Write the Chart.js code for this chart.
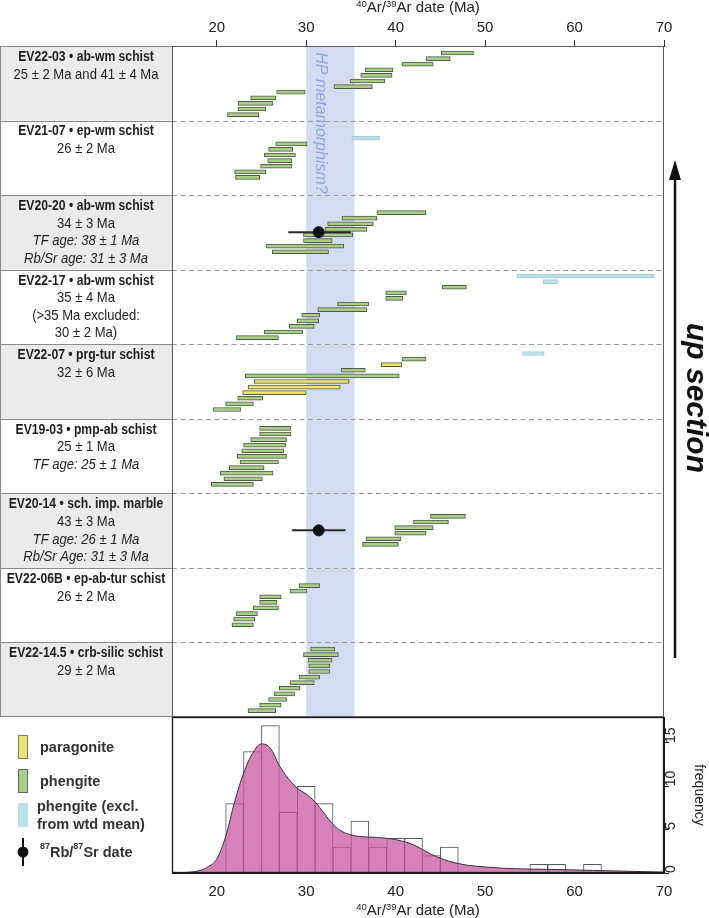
<!DOCTYPE html>
<html>
<head>
<meta charset="utf-8">
<script src="https://cdn.jsdelivr.net/npm/chart.js@4.4.1/dist/chart.umd.min.js"></script>
<style>
  html, body { margin: 0; padding: 0; background: #fff; }
  #wrap { position: relative; width: 709px; height: 918px; overflow: hidden; }
  #topChart { position: absolute; left: 0; top: 0; }
  #histChart { position: absolute; left: 0; top: 717px; }
</style>
</head>
<body>
<div id="wrap">
  <canvas id="topChart" width="709" height="718"></canvas>
  <canvas id="histChart" width="709" height="201"></canvas>
</div>
<script>
// samples, top to bottom
var sampleTitles = ['EV22-03 • ab-wm schist', 'EV21-07 • ep-wm schist', 'EV20-20 • ab-wm schist',
    'EV22-17 • ab-wm schist', 'EV22-07 • prg-tur schist', 'EV19-03 • pmp-ab schist',
    'EV20-14 • sch. imp. marble', 'EV22-06B • ep-ab-tur schist', 'EV22-14.5 • crb-silic schist'];
var sampleAges = [['25 ± 2 Ma and 41 ± 4 Ma'], ['26 ± 2 Ma'], ['34 ± 3 Ma'],
    ['35 ± 4 Ma', '(>35 Ma excluded:', '30 ± 2 Ma)'], ['32 ± 6 Ma'], ['25 ± 1 Ma'],
    ['43 ± 3 Ma'], ['26 ± 2 Ma'], ['29 ± 2 Ma']];
var sampleNotes = [[], [], ['TF age: 38 ± 1 Ma', 'Rb/Sr age: 31 ± 3 Ma'], [], [],
    ['TF age: 25 ± 1 Ma'], ['TF age: 26 ± 1 Ma', 'Rb/Sr Age: 31 ± 3 Ma'], [], []];

// step ages [min, max, mineral] listed top to bottom; ph = phengite, pa = paragonite, ex = excluded
var ev2203 = [[45.1, 48.7, 'ph'], [43.4, 46.1, 'ph'], [40.7, 44.2, 'ph'], [36.6, 39.7, 'ph'], [36.1, 39.6, 'ph'],
    [34.9, 38.8, 'ph'], [33.1, 37.4, 'ph'], [26.7, 29.9, 'ph'], [23.8, 26.6, 'ph'], [22.4, 26.3, 'ph'],
    [22.4, 25.5, 'ph'], [21.2, 24.7, 'ph']];
var ev2107 = [[35.1, 38.2, 'ex'], [26.6, 30.1, 'ph'], [25.8, 28.5, 'ph'], [25.3, 28.8, 'ph'], [25.7, 28.4, 'ph'],
    [24.9, 28.4, 'ph'], [22.0, 25.5, 'ph'], [22.1, 24.8, 'ph']];
var ev2020 = [[37.9, 43.4, 'ph'], [34.0, 37.9, 'ph'], [32.4, 37.5, 'ph'], [32.1, 36.8, 'ph'], [29.7, 35.2, 'ph'],
    [29.7, 32.9, 'ph'], [25.5, 34.2, 'ph'], [26.2, 32.5, 'ph']];
var ev2217 = [[53.6, 68.9, 'ex'], [56.5, 58.1, 'ex'], [45.2, 47.9, 'ph'], [38.9, 41.2, 'ph'], [38.9, 40.8, 'ph'],
    [33.5, 37.0, 'ph'], [31.3, 36.8, 'ph'], [29.5, 31.5, 'ph'], [29.0, 31.4, 'ph'], [28.1, 30.9, 'ph'],
    [25.3, 29.6, 'ph'], [22.2, 26.9, 'ph']];
var ev2207 = [[54.2, 56.6, 'ex'], [40.7, 43.4, 'ph'], [38.4, 40.7, 'pa'], [33.9, 36.6, 'ph'], [23.2, 40.4, 'ph'],
    [24.2, 34.8, 'pa'], [23.5, 33.8, 'pa'], [22.9, 30.0, 'pa'], [22.35, 25.15, 'ph'], [21.0, 24.1, 'ph'],
    [19.6, 22.7, 'ph']];
var ev1903 = [[24.8, 28.3, 'ph'], [24.8, 28.3, 'ph'], [23.8, 27.8, 'ph'], [23.0, 27.7, 'ph'], [22.8, 27.5, 'ph'],
    [22.3, 27.8, 'ph'], [22.6, 26.9, 'ph'], [21.4, 25.3, 'ph'], [20.4, 26.3, 'ph'], [20.8, 25.1, 'ph'],
    [19.4, 24.1, 'ph']];
var ev2014 = [[43.9, 47.8, 'ph'], [42.0, 45.9, 'ph'], [39.9, 44.2, 'ph'], [39.9, 43.4, 'ph'], [36.7, 40.6, 'ph'],
    [36.3, 40.3, 'ph']];
var ev2206b = [[29.2, 31.5, 'ph'], [28.2, 30.1, 'ph'], [24.8, 27.2, 'ph'], [24.8, 26.75, 'ph'], [24.1, 26.9, 'ph'],
    [22.2, 24.55, 'ph'], [21.9, 24.25, 'ph'], [21.7, 24.1, 'ph']];
var ev22145 = [[30.5, 33.2, 'ph'], [29.7, 33.6, 'ph'], [30.2, 32.9, 'ph'], [30.3, 32.65, 'ph'], [30.3, 32.65, 'ph'],
    [29.2, 31.5, 'ph'], [28.2, 30.9, 'ph'], [27.0, 29.3, 'ph'], [26.4, 28.7, 'ph'], [25.8, 27.8, 'ph'],
    [24.8, 27.2, 'ph'], [23.5, 26.6, 'ph']];
var steps = [ev2203, ev2107, ev2020, ev2217, ev2207, ev1903, ev2014, ev2206b, ev22145];

// Rb/Sr dates
var rbsrSample = [2, 6];
var rbsrAge = [31.4, 31.4];
var rbsrLo = [28.0, 28.4];
var rbsrHi = [35.0, 34.4];

var hpBand = [30, 35.4];

// histogram (2 Ma bins) and density curve
var binStart = [21, 23, 25, 27, 29, 31, 33, 35, 37, 39, 41, 43, 45, 47, 49, 51, 53, 55, 57, 59, 61];
var binCount = [8, 14, 17, 7, 10, 8, 3, 6, 3, 4, 4, 2, 3, 0, 0, 0, 0, 1, 1, 0, 1];
var kdeAge = [15, 16, 17, 18, 19, 20, 21, 22, 23, 24, 25, 26, 27, 28, 29, 30, 31, 32, 33, 34, 35, 36, 37, 38,
    39, 40, 41, 42, 43, 44, 45, 46, 47, 48, 50, 52, 55, 58, 62, 66, 70];
var kdeFreq = [0.02, 0.05, 0.1, 0.25, 0.7, 1.6, 4.2, 8.2, 11.5, 13.8, 14.9, 14.4, 12.4, 10.9, 9.8, 9.1, 8.2, 6.9,
    5.6, 4.8, 4.4, 4.2, 4.15, 4.1, 4.0, 3.85, 3.6, 3.25, 2.7, 2.15, 1.7, 1.35, 1.1, 0.9, 0.7, 0.55, 0.45, 0.4,
    0.3, 0.2, 0.1];

// layout of the step rows (row units, 9 sections)
var SEC = 671 / 9 / 5.6;
var rowGap = [1.07, 3.16, 3.2, 1.18, 1.66, 1.6, 4.2, 3.16, 1.13];
var rbsrRow = [3.5, 2.5];
var FONT = "'Liberation Sans', Arial, sans-serif";

function rowY(s, i) {
    return (s + 1) * SEC - rowGap[s] - i;
}

var phData = [], paData = [], exData = [];
steps.forEach(function (list, s) {
    var n = list.length;
    list.forEach(function (b, k) {
        var pt = { x: [b[0], b[1]], y: rowY(s, n - 1 - k) };
        if (b[2] === 'pa') paData.push(pt);
        else if (b[2] === 'ex') exData.push(pt);
        else phData.push(pt);
    });
});

function stepSet(label, data, fill, border) {
    return {
        type: 'bar', label: label, data: data, indexAxis: 'y', grouped: false,
        backgroundColor: fill, borderColor: border, borderWidth: 1, borderSkipped: false,
        barThickness: 4, order: 3
    };
}

var topSets = [
    stepSet('phengite', phData, '#a7cf86', '#4f5a48'),
    stepSet('paragonite', paData, '#ece56c', '#5a5840'),
    stepSet('excluded', exData, '#b9e1ea', '#a3ccd6')
];
var dots = [];
rbsrSample.forEach(function (s, k) {
    var y = rowY(s, rbsrRow[k]);
    topSets.push({
        type: 'line', data: [{ x: rbsrLo[k], y: y }, { x: rbsrHi[k], y: y }],
        borderColor: '#2a2a2a', borderWidth: 2, pointRadius: 0, order: 2
    });
    dots.push({ x: rbsrAge[k], y: y });
});
topSets.push({
    type: 'line', data: dots, showLine: false, pointRadius: 5.5,
    pointBackgroundColor: '#111', pointBorderColor: '#111', order: 1
});

// narrow text like Arial Narrow
function narrowText(ctx, txt, x, y, font, sx) {
    ctx.save();
    ctx.font = font;
    ctx.translate(x, y);
    ctx.scale(sx, 1);
    ctx.textAlign = 'center';
    ctx.textBaseline = 'middle';
    ctx.fillText(txt, 0, 0);
    ctx.restore();
}

// 40Ar/39Ar date (Ma) with raised isotope numbers
function arTitle(ctx, cx, cy) {
    var parts = [['40', 1], ['Ar/', 0], ['39', 1], ['Ar date (Ma)', 0]];
    var big = '15px ' + FONT, small = '9.5px ' + FONT, w = 0;
    parts.forEach(function (p) { ctx.font = p[1] ? small : big; w += ctx.measureText(p[0]).width; });
    var x = cx - w / 2;
    ctx.save();
    ctx.fillStyle = '#222';
    ctx.textAlign = 'left';
    ctx.textBaseline = 'middle';
    parts.forEach(function (p) {
        ctx.font = p[1] ? small : big;
        ctx.fillText(p[0], x, p[1] ? cy - 4 : cy);
        x += ctx.measureText(p[0]).width;
    });
    ctx.restore();
}

var topPanel = {
    id: 'topPanel',
    beforeDatasetsDraw: function (chart) {
        var ctx = chart.ctx, a = chart.chartArea, xs = chart.scales.x, ys = chart.scales.y;
        ctx.save();
        var x0 = xs.getPixelForValue(hpBand[0]), x1 = xs.getPixelForValue(hpBand[1]);
        ctx.fillStyle = 'rgba(120,145,210,0.32)';
        ctx.fillRect(x0, a.top, x1 - x0, a.bottom - a.top);

        ctx.strokeStyle = '#9a9a9a';
        ctx.lineWidth = 1;
        ctx.setLineDash([5, 3.5]);
        for (var s = 1; s < 9; s++) {
            var y = Math.round(ys.getPixelForValue(s * SEC)) + 0.5;
            ctx.beginPath();
            ctx.moveTo(a.left, y);
            ctx.lineTo(a.right, y);
            ctx.stroke();
        }
        ctx.setLineDash([]);

        // HP label
        ctx.translate(xs.getPixelForValue(31.55), a.top + 77);
        ctx.rotate(Math.PI / 2);
        ctx.fillStyle = '#8ea7e3';
        ctx.font = 'italic 16px ' + FONT;
        ctx.textAlign = 'center';
        ctx.textBaseline = 'middle';
        ctx.fillText('HP metamorphism?', 0, 0);
        ctx.restore();
    },
    afterDraw: function (chart) {
        var ctx = chart.ctx, a = chart.chartArea, ys = chart.scales.y;
        ctx.save();
        arTitle(ctx, (a.left + a.right) / 2, 8);
        // left label column
        for (var s = 0; s < 9; s++) {
            var y0 = ys.getPixelForValue(s * SEC), y1 = ys.getPixelForValue((s + 1) * SEC);
            if (s % 2 === 0) {
                ctx.fillStyle = '#ebebeb';
                ctx.fillRect(0, y0, a.left, y1 - y0);
            }
            ctx.fillStyle = '#1e1e1e';
            var cx = a.left / 2, ty = y0 + 11;
            narrowText(ctx, sampleTitles[s], cx, ty, 'bold 14px ' + FONT, 0.87);
            sampleAges[s].forEach(function (t) {
                ty += 17.5;
                narrowText(ctx, t, cx, ty, '15px ' + FONT, 0.87);
            });
            sampleNotes[s].forEach(function (t) {
                ty += 17.5;
                narrowText(ctx, t, cx, ty, 'italic 15px ' + FONT, 0.87);
            });
        }
        ctx.strokeStyle = '#8a8a8a';
        ctx.lineWidth = 1;
        for (var k = 0; k <= 9; k++) {
            var yl = Math.round(ys.getPixelForValue(k * SEC)) + (k === 9 ? -0.5 : 0.5);
            ctx.beginPath();
            ctx.moveTo(0, yl);
            ctx.lineTo(a.left, yl);
            ctx.stroke();
        }
        ctx.beginPath();
        ctx.moveTo(0.5, a.top);
        ctx.lineTo(0.5, a.bottom);
        ctx.stroke();

        // frame
        ctx.strokeStyle = '#5a5a5a';
        ctx.strokeRect(a.left + 0.5, a.top + 0.5, a.right - a.left - 1, a.bottom - a.top - 1);

        // up section arrow
        ctx.strokeStyle = '#111';
        ctx.fillStyle = '#111';
        ctx.lineWidth = 2.5;
        ctx.beginPath();
        ctx.moveTo(675, 658);
        ctx.lineTo(675, 175);
        ctx.stroke();
        ctx.beginPath();
        ctx.moveTo(675, 160);
        ctx.lineTo(681, 180);
        ctx.lineTo(669, 180);
        ctx.closePath();
        ctx.fill();
        ctx.translate(695, 398);
        ctx.rotate(Math.PI / 2);
        ctx.font = 'italic bold 30px ' + FONT;
        ctx.textAlign = 'center';
        ctx.textBaseline = 'middle';
        ctx.fillText('up section', 0, 0);
        ctx.restore();
    }
};

new Chart(document.getElementById('topChart'), {
    type: 'bar',
    data: { datasets: topSets },
    options: {
        responsive: false,
        animation: false,
        layout: { autoPadding: false, padding: { left: 172, right: 45, top: 0, bottom: 1 } },
        plugins: { legend: { display: false }, tooltip: { enabled: false } },
        scales: {
            x: {
                type: 'linear', position: 'top', min: 15, max: 70, offset: false,
                afterBuildTicks: function (s) { s.ticks = s.ticks.filter(function (t) { return t.value % 10 === 0; }); },
                afterFit: function (s) { s.height = 46; },
                grid: { offset: false, drawOnChartArea: false, tickLength: 6, color: '#333' },
                border: { display: true, color: '#333' },
                ticks: { stepSize: 10, padding: 3, color: '#222', font: { family: FONT, size: 15 } }
            },
            y: { type: 'linear', display: false, offset: false, min: 0, max: 9 * SEC, reverse: true }
        }
    },
    plugins: [topPanel]
});

// histogram panel
var histData = binStart.map(function (b, i) { return { x: b + 1, y: binCount[i] }; });
var kdeData = kdeAge.map(function (a, i) { return { x: a, y: kdeFreq[i] }; });

var histPanel = {
    id: 'histPanel',
    afterDraw: function (chart) {
        var ctx = chart.ctx, a = chart.chartArea;
        ctx.save();
        ctx.strokeStyle = '#1a1a1a';
        ctx.lineWidth = 1.3;
        ctx.strokeRect(a.left + 0.5, a.top + 0.5, a.right - a.left - 1, a.bottom - a.top - 1);
        arTitle(ctx, (a.left + a.right) / 2, 194);

        // legend
        ctx.lineWidth = 1;
        var sw = [['#ece56c', '#777', 18], ['#a7cf86', '#666', 52], ['#b9e1ea', '#c5e0e6', 86]];
        sw.forEach(function (w) {
            ctx.fillStyle = w[0];
            ctx.strokeStyle = w[1];
            ctx.fillRect(18.5, w[2] + 0.5, 9, 23);
            ctx.strokeRect(18.5, w[2] + 0.5, 9, 23);
        });
        ctx.fillStyle = '#333';
        ctx.font = 'bold 14.5px ' + FONT;
        ctx.textBaseline = 'middle';
        ctx.textAlign = 'left';
        ctx.fillText('paragonite', 40, 31);
        ctx.fillText('phengite', 40, 65);
        ctx.fillText('phengite (excl.', 37, 90);
        ctx.fillText('from wtd mean)', 37, 108);
        ctx.strokeStyle = '#111';
        ctx.lineWidth = 2;
        ctx.beginPath();
        ctx.moveTo(23, 121);
        ctx.lineTo(23, 149);
        ctx.stroke();
        ctx.fillStyle = '#111';
        ctx.beginPath();
        ctx.arc(23, 135, 5.5, 0, Math.PI * 2);
        ctx.fill();
        ctx.fillStyle = '#333';
        var x = 40;
        [['87', true], ['Rb/', false], ['87', true], ['Sr date', false]].forEach(function (p) {
            ctx.font = p[1] ? 'bold 9px ' + FONT : 'bold 14.5px ' + FONT;
            ctx.fillText(p[0], x, p[1] ? 130 : 136);
            x += ctx.measureText(p[0]).width;
        });
        ctx.restore();
    }
};

new Chart(document.getElementById('histChart'), {
    type: 'bar',
    data: {
        datasets: [
            {
                type: 'bar', data: histData, backgroundColor: 'rgba(255,255,255,1)', borderColor: '#555',
                borderWidth: 1, barPercentage: 1, categoryPercentage: 1, order: 2
            },
            {
                type: 'line', data: kdeData, fill: 'origin', backgroundColor: 'rgba(200,80,160,0.72)',
                borderColor: '#333', borderWidth: 1, pointRadius: 0, cubicInterpolationMode: 'monotone', order: 1
            }
        ]
    },
    options: {
        responsive: false,
        animation: false,
        layout: { autoPadding: false, padding: { left: 172, right: 0, top: 0, bottom: 0 } },
        plugins: { legend: { display: false }, tooltip: { enabled: false } },
        scales: {
            x: {
                type: 'linear', min: 15, max: 70, offset: false,
                afterBuildTicks: function (s) { s.ticks = s.ticks.filter(function (t) { return t.value % 10 === 0; }); },
                afterFit: function (s) { s.height = 45; s.paddingLeft = 0; s.paddingRight = 0; },
                grid: { display: false, offset: false },
                border: { display: true, color: '#1a1a1a' },
                ticks: { stepSize: 10, padding: 2, color: '#222', font: { family: FONT, size: 15 } }
            },
            y: {
                type: 'linear', position: 'right', min: 0, max: 18, offset: false,
                afterBuildTicks: function (s) { s.ticks = s.ticks.filter(function (t) { return t.value % 5 === 0; }); },
                afterFit: function (s) { s.width = 45; s.paddingTop = 0; s.paddingBottom = 0; },
                grid: { drawOnChartArea: false, tickLength: 5, color: '#222' },
                border: { display: true, color: '#1a1a1a' },
                ticks: { stepSize: 5, minRotation: 90, maxRotation: 90, padding: 2, color: '#222', font: { family: FONT, size: 14 } },
                title: {
                    display: true, text: 'frequency', color: '#222', padding: { top: 2, bottom: 0 },
                    font: { family: FONT, size: 14 }
                }
            }
        }
    },
    plugins: [histPanel]
});
</script>
</body>
</html>
